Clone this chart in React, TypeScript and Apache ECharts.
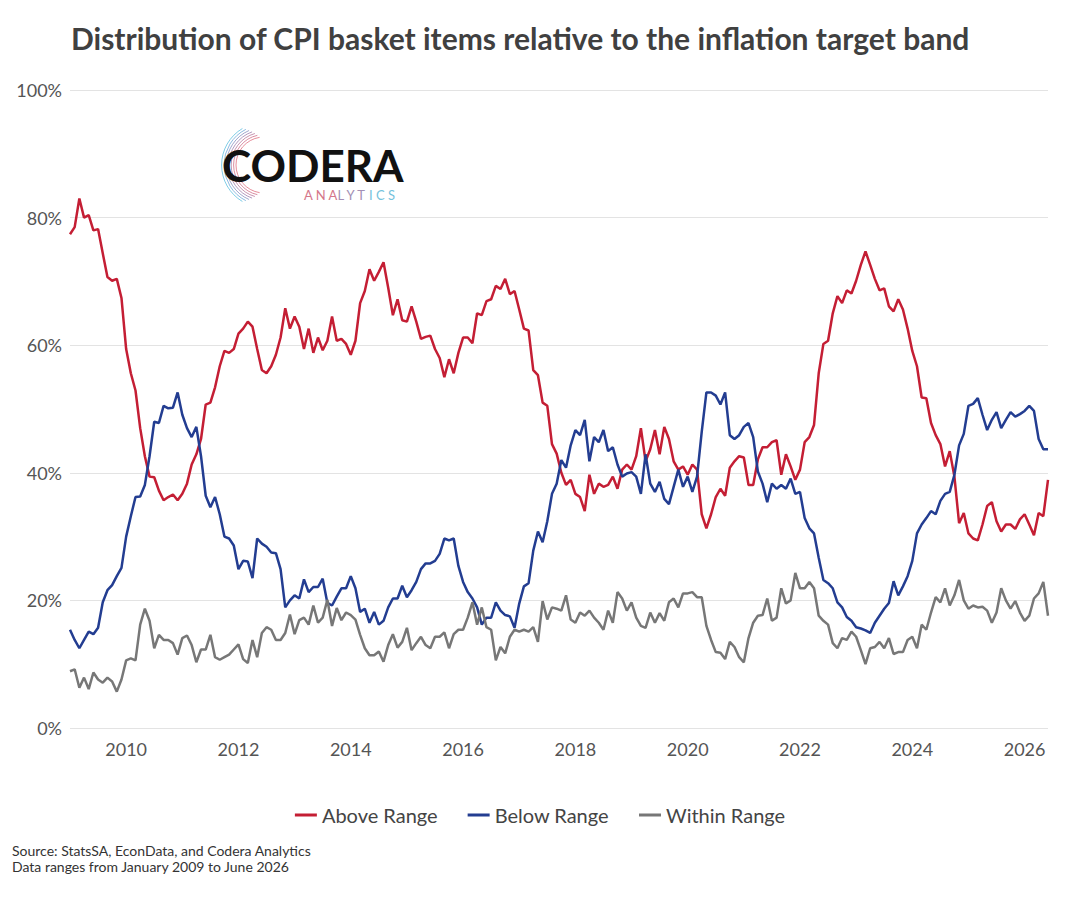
import React, { useEffect, useRef } from "react";
import * as echarts from "echarts";

const startYear = 2009;
const tickYears = [2010, 2012, 2014, 2016, 2018, 2020, 2022, 2024, 2026];
const yTicks = ["0%", "20%", "40%", "60%", "80%", "100%"];

const aboveRange = [
  77.4,78.5,83,80,80.4,78,78.2,74.4,70.7,70.1,70.4,67.4,59.4,55.6,52.9,47,42.6,39.4,39.3,37.2,35.7,36.2,36.6,35.7,36.7,38.3,41.3,42.9,45.3,50.7,51,53.4,56.7,59.1,58.8,59.4,61.8,62.6,63.7,62.9,59.4,56.1,55.6,56.7,58.5,61.2,65.8,62.6,64.5,62.9,59.4,62.6,
  58.8,61.2,59.2,60.7,64.5,60.7,61,60.2,58.5,60.7,66.6,68.5,71.9,70.1,71.5,73,69,64.7,67.2,63.9,63.7,66.1,63.7,61,61.3,61.5,59.4,58,55,57.8,55.6,58.8,61.2,61.2,60.3,65,64.7,66.9,67.2,69.3,68.8,70.4,68,68.5,65.6,62.6,62.3,56.1,55.3,51,50.5,
  44.5,43,40,38.1,38.9,36.7,36.2,34,39.7,36.7,38.3,37.8,38.1,39.4,37.5,40.5,41.3,40.5,42.6,47,41.8,43.7,46.7,42.9,47.2,45.3,41.8,40.5,41,39.7,41.3,40.5,33.5,31.3,33.5,36.2,37.5,36.4,40.8,41.8,42.6,42.4,38.1,38.1,42.1,44,44,44.8,45.1,39.7,42.9,41,38.9,
  40.5,44.8,45.6,47.5,55.6,60.2,60.7,65,67.7,66.6,68.6,68.1,70.1,72.6,74.7,72.6,70.4,68.6,68.9,66.1,65.3,67.2,65.6,62.6,59.1,56.7,51.8,51.7,47.8,45.9,44.5,41,43.4,39.4,32.1,33.7,30.5,29.7,29.4,31.9,34.8,35.4,32.4,30.8,31.9,31.9,31.2,32.7,33.5,31.9,30.2,33.7,33.2,38.9,
];
const belowRange = [
  15.4,13.8,12.5,13.8,15.1,14.7,15.7,19.7,21.6,22.4,23.8,25.1,30,33.2,36.2,36.3,38.1,42.6,48,47.8,50.5,50.1,50.2,52.6,49.1,47,45.6,47.2,42.6,36.4,34.6,36.2,33.5,30,29.7,28.6,24.9,26.2,26.1,23.5,29.7,28.9,28.4,27.5,27.4,24.9,18.9,20,20.8,20.3,23.3,21.3,
  22.1,22.1,23.4,19.6,19.2,20.6,21.9,21.9,23.8,21.9,18.2,18.7,16.5,18.2,16.2,16.8,18.9,20.3,20.3,22.3,20.5,21.6,22.9,24.9,25.8,25.8,26.2,27.3,29.7,29.4,29.7,25.4,22.9,21.3,20.3,18.9,16.2,17.3,17.3,19.7,18.4,17.7,17.5,15.7,19.5,22.2,22.7,27.8,30.8,29.1,32.4,
  36.7,38.3,42,40.8,44.3,46.7,45.9,48.3,41.8,45.6,44.8,46.7,43.4,44,41.3,39.4,39.9,40.1,39.4,36.7,42.9,38.3,37,38.6,35.9,35.1,37.8,40.5,37.8,39.4,37,39.4,46.4,52.6,52.6,52.1,50.7,52.6,45.9,45.3,45.9,47.2,47.8,45.6,40.2,38.3,35.4,38.3,37.5,38.1,37.5,39.1,36.7,
  37,32.9,31.3,30.5,26.7,23.2,22.7,21.9,19.7,18.9,17.4,16.8,15.8,15.6,15.3,14.9,16.5,17.6,18.7,19.6,23,20.8,22.2,23.8,26.2,30.5,31.9,32.9,34,33.5,35.6,36.7,37,39.7,44.3,46.1,50.5,50.8,51.7,49.1,46.7,48.3,49.5,47,48.3,49.5,48.8,49.2,49.7,50.5,49.7,45.3,43.7,43.7,
];
const withinRange = [
  8.9,9.2,6.3,7.9,6.1,8.7,7.6,7.1,7.9,7.3,5.7,7.6,10.6,10.9,10.6,16.2,18.7,16.8,12.5,14.6,13.8,13.8,13.3,11.5,14.1,14.5,13,10.3,12.3,12.3,14.6,11.1,10.7,11.1,11.5,12.3,13.1,10.8,10.2,13.8,11.1,14.9,15.8,15.4,13.8,13.8,14.9,17.8,14.7,16.9,17.3,16.2,
  19.2,16.5,17.3,20.1,16,18.8,16.9,18.1,17.7,17,14.6,12.5,11.4,11.4,12,10.4,13,14.7,12.6,13.5,15.7,12.2,13.3,14.3,13,12.5,14.3,14.3,15,12.5,14.7,15.4,15.4,17.3,19.7,16.2,18.9,15.8,15.4,10.6,12.7,11.7,14.3,15.4,15.1,15.4,15.1,15.8,13.5,19.9,17,
  18.9,18.7,18.4,20.8,17,16.5,18.1,17.6,18.4,17.3,16.5,15.4,18.4,16.5,21.3,20.3,18.4,19.7,17.3,16,15.7,18.1,16.5,18,16.8,19.7,20.3,18.9,21.1,21.1,21.3,20.5,20.5,16,13.8,11.9,11.8,10.8,13.5,12.7,11.1,10.3,14.1,16.5,17.6,17.7,20.3,16.8,17.3,21.9,19.5,20,24.3,
  21.9,21.9,22.9,21.9,17.6,16.8,16.2,13.3,12.5,14.1,13.8,15.1,14.3,12.2,10,12.5,12.7,13.5,12.5,14.1,11.6,11.9,11.9,13.8,14.3,12.5,16.2,15.4,18.1,20.5,19.7,21.9,19.2,20.8,23.2,20,18.7,19.2,18.9,19,18.4,16.5,18.1,21.9,20,18.7,19.9,18.1,16.8,17.6,20.3,21.1,22.9,17.6,
];

const toPairs = (arr: number[]) => arr.map((v, i) => [startYear + i / 12, v]);

const analyticsParts = ["A N A", "L Y T", "I C S"];
const analyticsColors = ["#d5768a", "#a38fb5", "#74c2dc"];
const analyticsOffsets = [0, 33.5, 65];

export default function App() {
  const ref = useRef<HTMLDivElement>(null);
  useEffect(() => {
    const chart = echarts.init(ref.current!, undefined, { renderer: "svg" });
    const font = "Lato";
    const arcs: any[] = [];
    const arcColors = ["#e07080", "#d0708a", "#b8789c", "#a080b0", "#8890c0", "#70a8d8", "#60c0e0"];
    for (let k = 0; k < 7; k++) {
      arcs.push({
        type: "arc",
        shape: { cx: 256, cy: 157, r: 28 + k * 2.4, startAngle: Math.PI * (0.55 + k * 0.02), endAngle: Math.PI * (1.45 - k * 0.02), clockwise: true },
        style: { stroke: arcColors[k], lineWidth: 0.8, fill: "none" },
        silent: true,
      });
    }
    const letters = analyticsParts.map((t, i) => ({
      type: "text",
      x: 296 + analyticsOffsets[i],
      y: 187,
      style: { text: t, font: `13px ${font}`, fill: analyticsColors[i], textVerticalAlign: "middle", lineHeight: 12 },
      silent: true,
    }));
    chart.setOption({
      animation: false,
      backgroundColor: "#ffffff",
      textStyle: { fontFamily: font },
      title: {
        text: "Distribution of CPI basket items relative to the inflation target band",
        left: 58,
        top: 10,
        textStyle: { fontFamily: font, fontSize: 30, fontWeight: "bold", color: "#404040" },
      },
      graphic: [
        ...arcs,
        {
          type: "text",
          x: 214,
          y: 157,
          style: { text: "CODERA", font: `bold 44px ${font}`, fill: "#111111", textVerticalAlign: "middle", lineHeight: 28 },
        },
        ...letters,
        {
          type: "text",
          left: 4,
          top: 834,
          style: { text: "Source: StatsSA, EconData, and Codera Analytics\nData ranges from January 2009 to June 2026", font: `14px ${font}`, fill: "#333", lineHeight: 16 },
        },
      ],
      legend: {
        bottom: 62,
        left: "center",
        itemWidth: 22,
        itemHeight: 3,
        itemGap: 30,
        icon: "rect",
        textStyle: { fontFamily: font, fontSize: 20, color: "#444" },
        data: ["Above Range", "Below Range", "Within Range"],
      },
      grid: { left: 62, right: 24, top: 82, bottom: 164 },
      xAxis: {
        type: "value",
        min: startYear,
        max: startYear + (aboveRange.length - 1) / 12,
        interval: 1,
        splitLine: { show: false },
        axisLine: { show: false },
        axisTick: { show: false },
        axisLabel: {
          fontFamily: font,
          fontSize: 18,
          color: "#555",
          margin: 12,
          showMaxLabel: false,
          formatter: (v: number) => (tickYears.includes(Math.round(v)) && Math.abs(v - Math.round(v)) < 1e-6 ? String(Math.round(v)) : ""),
        },
      },
      yAxis: {
        type: "value",
        min: 0,
        max: 100,
        interval: 20,
        axisLine: { show: false },
        axisTick: { show: false },
        splitLine: { lineStyle: { color: "#e3e3e3", width: 1 } },
        axisLabel: {
          fontFamily: font,
          fontSize: 18,
          color: "#555",
          margin: 8,
          formatter: (v: number) => yTicks[v / 20],
        },
      },
      series: [
        { name: "Above Range", type: "line", data: toPairs(aboveRange), showSymbol: false, lineStyle: { color: "#c41e34", width: 2.5 }, itemStyle: { color: "#c41e34" } },
        { name: "Below Range", type: "line", data: toPairs(belowRange), showSymbol: false, lineStyle: { color: "#233d91", width: 2.5 }, itemStyle: { color: "#233d91" } },
        { name: "Within Range", type: "line", data: toPairs(withinRange), showSymbol: false, lineStyle: { color: "#777777", width: 2.5 }, itemStyle: { color: "#777777" } },
      ],
    });
    return () => chart.dispose();
  }, []);
  return <div ref={ref} style={{ width: 1064, height: 884 }} />;
}
